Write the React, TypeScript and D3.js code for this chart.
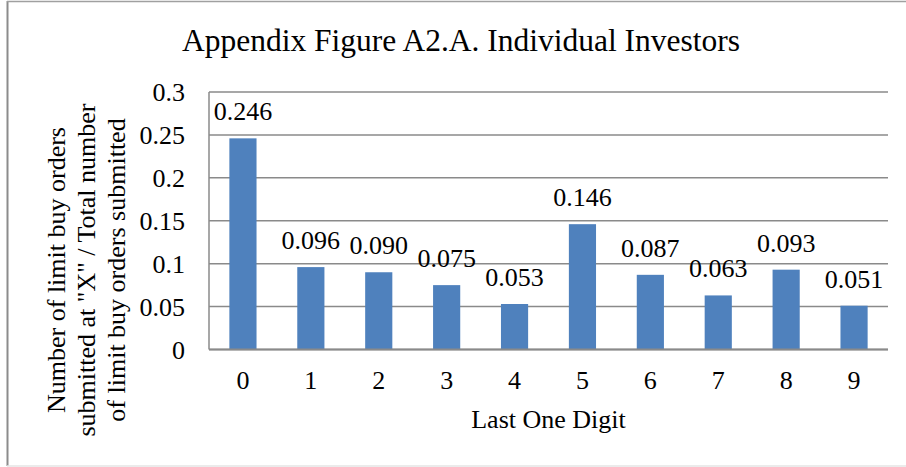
import { useEffect, useRef } from "react";
import * as d3 from "d3";

const digits = ["0", "1", "2", "3", "4", "5", "6", "7", "8", "9"];
const shares = [0.246, 0.096, 0.09, 0.075, 0.053, 0.146, 0.087, 0.063, 0.093, 0.051];
const yTicks = [0, 0.05, 0.1, 0.15, 0.2, 0.25, 0.3];
const yTitleLines = [
  "Number of limit buy orders",
  'submitted at "X" / Total number',
  "of limit buy orders submitted",
];

const W = 906;
const H = 467;
const FONT = "'Liberation Serif', 'Times New Roman', serif";

export default function App() {
  const ref = useRef<SVGSVGElement>(null);

  useEffect(() => {
    const svg = d3.select(ref.current);
    svg.selectAll("*").remove();

    const left = 209, right = 888, top = 92, bottom = 349.5;

    const x = d3.scaleBand().domain(digits).range([left, right]).padding(0);
    const y = d3.scaleLinear().domain([0, 0.3]).range([bottom, top]);

    svg.append("rect").attr("width", W).attr("height", H).attr("fill", "#fff");

    // chart frame
    svg.append("line").attr("x1", 7.5).attr("x2", 7.5).attr("y1", 1).attr("y2", 466)
      .attr("stroke", "#8c8c8c").attr("stroke-width", 2);
    svg.append("line").attr("x1", 7).attr("x2", 906).attr("y1", 1.5).attr("y2", 1.5)
      .attr("stroke", "#a0a0a0").attr("stroke-width", 1.5);
    svg.append("line").attr("x1", 7).attr("x2", 906).attr("y1", 466).attr("y2", 466)
      .attr("stroke", "#e4e4e4").attr("stroke-width", 1.5);

    svg.append("text")
      .attr("x", 461).attr("y", 51)
      .attr("text-anchor", "middle")
      .style("font-family", FONT).style("font-size", "31.5px")
      .text("Appendix Figure A2.A. Individual Investors");

    // gridlines
    svg.append("g").selectAll("line").data(yTicks).join("line")
      .attr("x1", left).attr("x2", right)
      .attr("y1", d => y(d)).attr("y2", d => y(d))
      .attr("stroke", "#8a8a8a").attr("stroke-width", 1.5);

    svg.append("line").attr("x1", left).attr("x2", left).attr("y1", top).attr("y2", bottom)
      .attr("stroke", "#8a8a8a").attr("stroke-width", 1.5);

    // y tick labels
    svg.append("g").selectAll("text").data(yTicks).join("text")
      .attr("x", 185).attr("y", d => y(d))
      .attr("dy", "0.35em")
      .attr("text-anchor", "end")
      .style("font-family", FONT).style("font-size", "26px")
      .text(d => d3.format("~g")(d));

    // bars
    const bw = x.bandwidth() * 0.4;
    svg.append("g").selectAll("rect").data(shares).join("rect")
      .attr("x", (d, i) => x(digits[i])! + x.bandwidth() / 2 - bw / 2)
      .attr("width", bw)
      .attr("y", d => y(d))
      .attr("height", d => bottom - y(d))
      .attr("fill", "#4f81bd");

    // axis line over bars
    svg.append("line").attr("x1", left).attr("x2", right).attr("y1", bottom).attr("y2", bottom)
      .attr("stroke", "#8a8a8a").attr("stroke-width", 2);

    // value labels
    svg.append("g").selectAll("text").data(shares).join("text")
      .attr("x", (d, i) => x(digits[i])! + x.bandwidth() / 2)
      .attr("y", d => y(d) - 18)
      .attr("text-anchor", "middle")
      .style("font-family", FONT).style("font-size", "26px")
      .text(d => d3.format(".3f")(d));

    // x tick labels
    svg.append("g").selectAll("text").data(digits).join("text")
      .attr("x", d => x(d)! + x.bandwidth() / 2)
      .attr("y", 389)
      .attr("text-anchor", "middle")
      .style("font-family", FONT).style("font-size", "26px")
      .text(d => d);

    svg.append("text")
      .attr("x", (left + right) / 2).attr("y", 428)
      .attr("text-anchor", "middle")
      .style("font-family", FONT).style("font-size", "26px")
      .text("Last One Digit");

    // y axis title
    const yt = svg.append("text")
      .attr("transform", "translate(65,270) rotate(-90)")
      .attr("text-anchor", "middle")
      .style("font-family", FONT).style("font-size", "26px");
    yt.selectAll("tspan").data(yTitleLines).join("tspan")
      .attr("x", 0).attr("y", (d, i) => i * 29.8)
      .text(d => d);
  }, []);

  return (
    <div style={{ position: "absolute", left: 0, top: 0 }}>
      <svg ref={ref} width={W} height={H} style={{ display: "block" }} />
    </div>
  );
}
